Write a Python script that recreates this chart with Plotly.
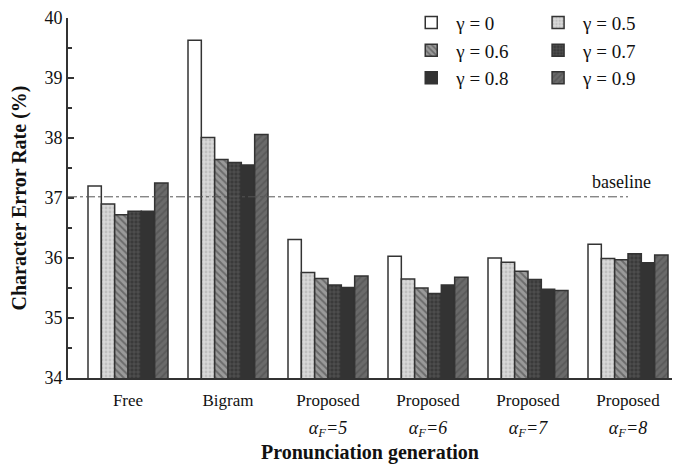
import plotly.graph_objects as go

categories = ["<span style='font-size:17px'>Free</span>",
              "<span style='font-size:17px'>Bigram</span>",
              "<span style='font-size:17px'>Proposed</span><br><span style='font-size:18px'><i>α<sub>F</sub>=5</i></span>",
              "<span style='font-size:17px'>Proposed</span><br><span style='font-size:18px'><i>α<sub>F</sub>=6</i></span>",
              "<span style='font-size:17px'>Proposed</span><br><span style='font-size:18px'><i>α<sub>F</sub>=7</i></span>",
              "<span style='font-size:17px'>Proposed</span><br><span style='font-size:18px'><i>α<sub>F</sub>=8</i></span>"]
series_names = ["γ = 0", "γ = 0.5", "γ = 0.6", "γ = 0.7", "γ = 0.8", "γ = 0.9"]
g00 = [37.20, 39.63, 36.31, 36.03, 36.00, 36.23]
g05 = [36.90, 38.01, 35.76, 35.65, 35.93, 35.99]
g06 = [36.72, 37.64, 35.66, 35.50, 35.78, 35.97]
g07 = [36.78, 37.59, 35.55, 35.41, 35.64, 36.07]
g08 = [36.78, 37.55, 35.51, 35.55, 35.48, 35.92]
g09 = [37.25, 38.06, 35.70, 35.68, 35.46, 36.05]
baseline = 37.02
series_values = [g00, g05, g06, g07, g08, g09]

styles = [
    dict(color="white", pattern=dict(shape="")),
    dict(color="#d9d9d9", pattern=dict(shape=".", fgcolor="#a8a8a8", size=4, solidity=0.4)),
    dict(color="#9a9a9a", pattern=dict(shape="\\", fgcolor="#3c3c3c", size=5, solidity=0.4)),
    dict(color="#3a3a3a", pattern=dict(shape="+", fgcolor="#8a8a8a", size=4, solidity=0.25)),
    dict(color="#333333", pattern=dict(shape="")),
    dict(color="#6a6a6a", pattern=dict(shape="/", fgcolor="#4a4a4a", size=5, solidity=0.4)),
]
legend_of = ["legend", "legend2", "legend", "legend2", "legend", "legend2"]

fig = go.Figure()
for name, vals, st, lg in zip(series_names, series_values, styles, legend_of):
    fig.add_trace(go.Bar(
        x=categories, y=vals, name=name, legend=lg,
        marker=dict(color=st["color"], pattern=st["pattern"],
                    line=dict(color="#333333", width=1.5)),
    ))

font_family = "Liberation Serif"
fig.add_shape(type="line", xref="x", yref="y", x0=-0.6, x1=5.0, y0=baseline, y1=baseline,
              line=dict(color="#555555", width=1, dash="dashdot"))
fig.add_annotation(x=4.93, y=baseline, xref="x", yref="y", text="baseline",
                   showarrow=False, yanchor="bottom", yshift=3,
                   font=dict(family=font_family, size=18, color="#111"))

legend_common = dict(font=dict(family=font_family, size=19, color="#111"),
                     bgcolor="rgba(0,0,0,0)", yanchor="top", xanchor="left",
                     traceorder="normal", itemwidth=40, tracegroupgap=0)
fig.update_layout(
    width=684, height=456,
    margin=dict(l=60, r=20, t=10, b=86, autoexpand=False),
    paper_bgcolor="white", plot_bgcolor="white",
    barmode="group", bargap=0.2, bargroupgap=0,
    font=dict(family=font_family, color="#111"),
    legend=dict(x=0.56, y=1.04, **legend_common),
    legend2=dict(x=0.77, y=1.04, **legend_common),
    xaxis=dict(range=[-0.6, 5.44], showline=True, linecolor="#333", linewidth=2,
               ticks="", ticklabelstandoff=1,
               tickfont=dict(family=font_family, size=21, color="#111"),
               title=dict(text="<b>Pronunciation generation</b>", standoff=9,
                          font=dict(family=font_family, size=20, color="#111"))),
    yaxis=dict(range=[34, 40], dtick=1, showline=True, linecolor="#333", linewidth=2,
               ticks="inside", ticklen=6, tickwidth=1.5, tickcolor="#333",
               minor=dict(ticks="inside", ticklen=4, dtick=0.5, tickcolor="#333"),
               showgrid=False, zeroline=False,
               tickfont=dict(family=font_family, size=18, color="#111"),
               title=dict(text="<b>Character Error Rate (%)</b>", standoff=12,
                          font=dict(family=font_family, size=20, color="#111"))),
)
fig.write_html("out.html")
